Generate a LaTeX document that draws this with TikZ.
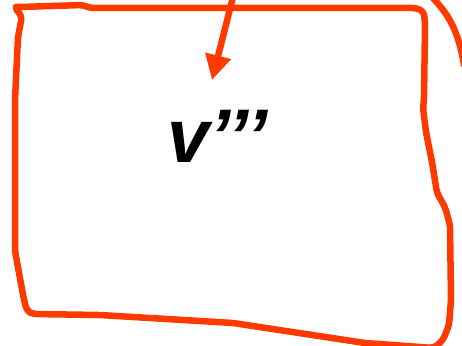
\documentclass[tikz,border=0pt]{standalone}
\usepackage{fontspec}
\setmainfont{Liberation Sans}
\usetikzlibrary{arrows.meta}
\definecolor{pen}{RGB}{255,58,0}
\tikzset{
  penline/.style={draw=pen, line width=6.5pt, line join=round, line cap=round},
  lbltext/.style={font=\fontsize{76}{76}\selectfont\bfseries\itshape, text=black, inner sep=0pt}
}
\begin{document}
\begin{tikzpicture}[x=1pt,y=-1pt]
\useasboundingbox (0,0) rectangle (462,345);
% main hand-drawn box
\draw[penline, rounded corners=4pt]
  (20,7) -- (83,5) -- (90,8) -- (417,8) -- (424,12) -- (425,25) -- (424,100) -- (423,108)
  -- (426,132) -- (432,162) -- (437,193) -- (445,207) -- (450,225) -- (451,300)
  -- (449,325) -- (443,340) -- (434,348) -- (365,343) -- (233,323) -- (100,315)
  -- (33,314) -- (27,311) -- (24,300) -- (17,262) -- (15,250) -- (15,100) -- (18,37)
  -- (22,16) -- (17,11) -- (16,7) -- cycle;
% right outer curve
\coordinate (c1) at (432,-3);
\coordinate (c2) at (464,65);
\draw[penline] (c1) .. controls (447,13) and (458,28) .. (c2);
% arrow
\coordinate (a1) at (233,-3);
\coordinate (a2) at (212,80);
\draw[penline, line cap=butt, -{Triangle[length=25pt,width=25pt]}] (a1) -- (a2);
% label
\node[lbltext, anchor=base west] (lbl) at (167,162) {v’’’};
\end{tikzpicture}
\end{document}
